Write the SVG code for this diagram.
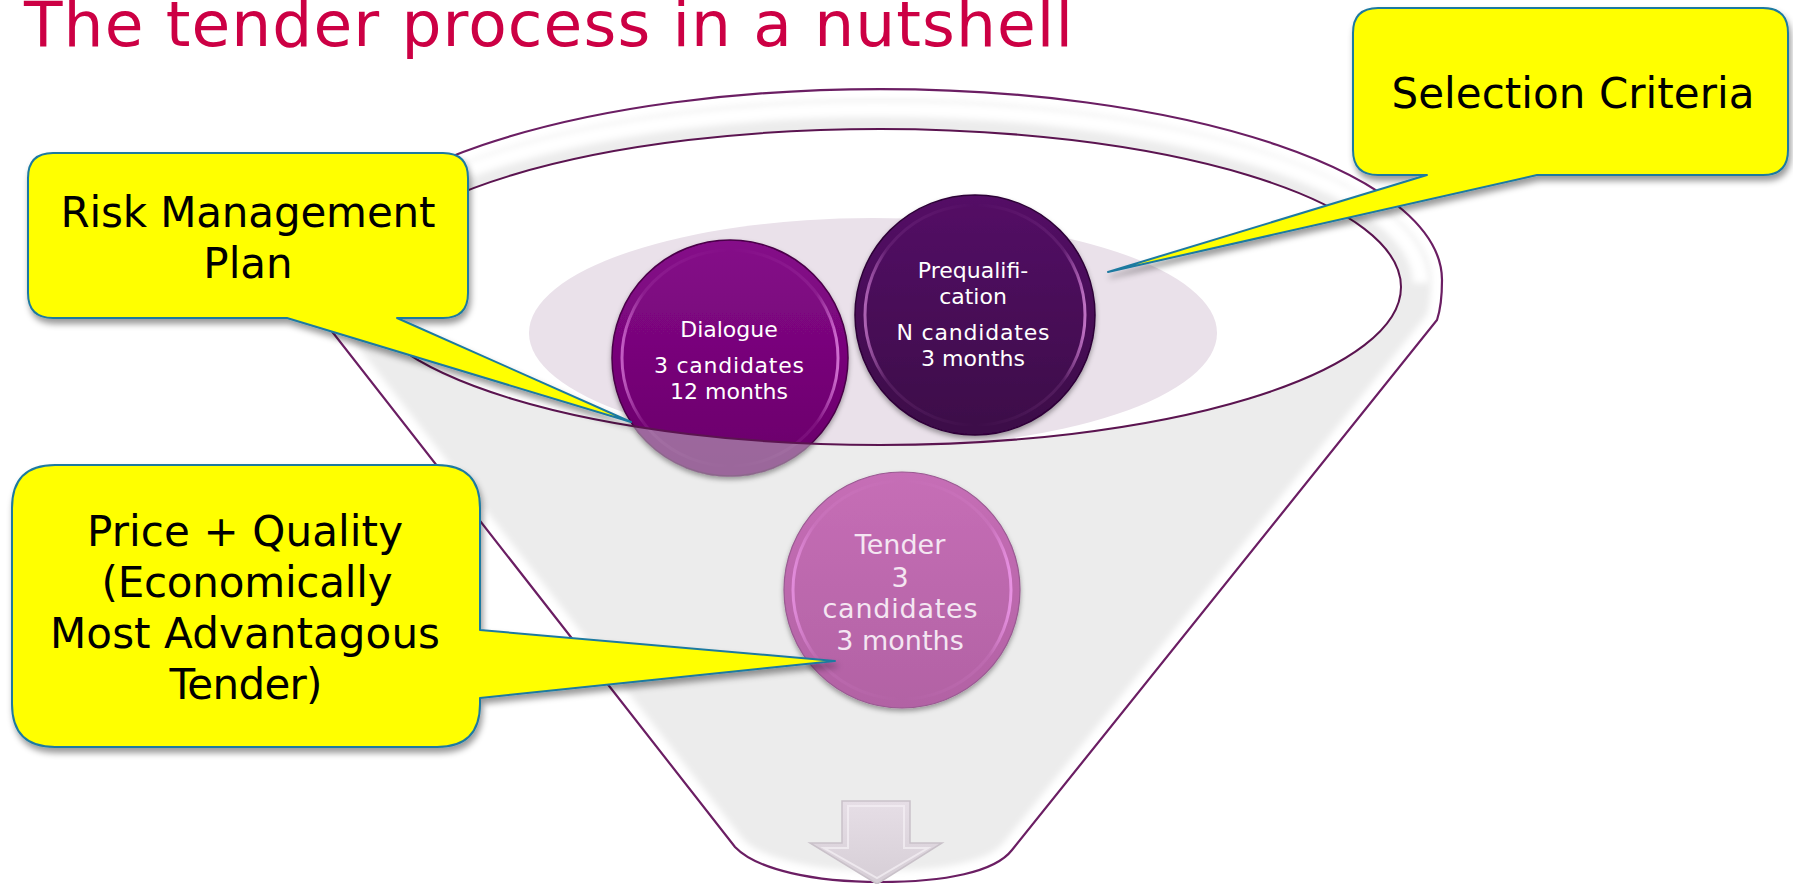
<svg xmlns="http://www.w3.org/2000/svg" width="1793" height="884" viewBox="0 0 1793 884">
  <style>
    .title { font-family: "DejaVu Sans", Verdana, sans-serif; font-size: 63px; fill: #CC0044; }
    .call { font-family: "DejaVu Sans", Verdana, sans-serif; font-size: 42px; fill: #000; text-anchor: middle; }
    .callout { fill: #FFFF00; stroke: #1F7AA0; stroke-width: 2; stroke-linejoin: round; filter: url(#shadow); }
    .stage { font-family: "DejaVu Sans", Verdana, sans-serif; font-size: 22px; fill: #FFFFFF; text-anchor: middle; }
    .stage-lg { font-family: "DejaVu Sans", Verdana, sans-serif; font-size: 27px; fill: #F4E6F2; text-anchor: middle; }
    .funnel-line { fill: none; stroke: #6B1E63; stroke-width: 2.2; }
    .ring { fill: none; stroke: url(#ringHi); stroke-width: 3; }
  </style>
  <defs>
    <filter id="shadow" x="-10%" y="-10%" width="125%" height="130%">
      <feDropShadow dx="2" dy="5" stdDeviation="3" flood-color="#000" flood-opacity="0.4"/>
    </filter>
    <filter id="discShadow" x="-10%" y="-10%" width="120%" height="125%">
      <feDropShadow dx="0" dy="3" stdDeviation="2.5" flood-color="#000" flood-opacity="0.35"/>
    </filter>
    <filter id="soft" x="-5%" y="-5%" width="110%" height="110%">
      <feGaussianBlur stdDeviation="3"/>
    </filter>
    <linearGradient id="ringHi" x1="0" y1="0" x2="1" y2="0">
      <stop offset="0" stop-color="#FFA8FF" stop-opacity="0.55"/>
      <stop offset="0.1" stop-color="#FFA8FF" stop-opacity="0.1"/>
      <stop offset="0.5" stop-color="#FFA8FF" stop-opacity="0"/>
      <stop offset="0.9" stop-color="#FFA8FF" stop-opacity="0.1"/>
      <stop offset="1" stop-color="#FFA8FF" stop-opacity="0.65"/>
    </linearGradient>
    <linearGradient id="gDialogue" x1="0" y1="0" x2="0" y2="1">
      <stop offset="0" stop-color="#850A89"/>
      <stop offset="1" stop-color="#690069"/>
    </linearGradient>
    <linearGradient id="gPrequal" x1="0" y1="0" x2="0" y2="1">
      <stop offset="0" stop-color="#541066"/>
      <stop offset="1" stop-color="#3C0848"/>
    </linearGradient>
    <linearGradient id="gTender" x1="0" y1="0" x2="0" y2="1">
      <stop offset="0" stop-color="#C66EB6"/>
      <stop offset="1" stop-color="#B262A4"/>
    </linearGradient>
    <linearGradient id="gArrow" x1="0" y1="0" x2="0" y2="1">
      <stop offset="0" stop-color="#E6DEE6"/>
      <stop offset="1" stop-color="#D6CED6"/>
    </linearGradient>
    <clipPath id="bodyClip">
      <path d="M 318,280 A 562,191 0 0 1 1442,280 C 1442,298 1441,308 1437,320 L 1012,850 C 995,872 945,882 880,882 C 815,882 757,870 735,847 L 323,320 C 319,308 318,298 318,280 Z"/>
    </clipPath>
    <clipPath id="openingClip">
      <ellipse cx="880" cy="287" rx="521" ry="158"/>
    </clipPath>
    <mask id="outsideOpening">
      <rect width="1793" height="884" fill="#fff"/>
      <ellipse cx="880" cy="287" rx="521" ry="158" fill="#000"/>
    </mask>
  </defs>

  <rect width="1793" height="884" fill="#FFFFFF"/>

  <!-- funnel body -->
  <g id="funnel">
    <path d="M 318,280 A 562,191 0 0 1 1442,280 C 1442,298 1441,308 1437,320 L 1012,850 C 995,872 945,882 880,882 C 815,882 757,870 735,847 L 323,320 C 319,308 318,298 318,280 Z" fill="#ECECEC"/>
    <g clip-path="url(#bodyClip)">
      <path d="M 318,280 A 562,191 0 0 1 1442,280 C 1442,298 1441,308 1437,320 L 1012,850 C 995,872 945,882 880,882 C 815,882 757,870 735,847 L 323,320 C 319,308 318,298 318,280 Z" fill="none" stroke="#FFFFFF" stroke-width="22" filter="url(#soft)"/>
      <path d="M 339,283 A 541,174 0 0 1 1421,283" fill="none" stroke="#FFFFFF" stroke-width="16" filter="url(#soft)"/>
    </g>
    <path class="funnel-line" d="M 318,280 A 562,191 0 0 1 1442,280 C 1442,298 1441,308 1437,320 L 1012,850 C 995,872 945,882 880,882 C 815,882 757,870 735,847 L 323,320 C 319,308 318,298 318,280 Z"/>
    <!-- opening of the funnel -->
    <ellipse cx="880" cy="287" rx="521" ry="158" fill="#FFFFFF"/>
    <ellipse cx="873" cy="333" rx="344" ry="115" fill="#EAE1EA" clip-path="url(#openingClip)"/>
  </g>

  <!-- stage discs -->
  <g id="dialogue">
    <circle cx="730" cy="358" r="118" fill="url(#gDialogue)" stroke="#4A0048" stroke-width="1.5" filter="url(#discShadow)"/>
    <circle class="ring" cx="730" cy="358" r="108"/>
    <circle cx="730" cy="358" r="119" fill="#C4BCC4" opacity="0.55" mask="url(#outsideOpening)"/>
    <text class="stage" x="729" y="337">Dialogue</text>
    <text class="stage" x="729" y="373" textLength="150">3 candidates</text>
    <text class="stage" x="729" y="399">12 months</text>
  </g>

  <g id="prequalification">
    <circle cx="975" cy="315" r="120" fill="url(#gPrequal)" stroke="#2E0438" stroke-width="1.5" filter="url(#discShadow)"/>
    <circle class="ring" cx="975" cy="315" r="110"/>
    <text class="stage" x="973" y="278">Prequalifi-</text>
    <text class="stage" x="973" y="304">cation</text>
    <text class="stage" x="973" y="340" textLength="153">N candidates</text>
    <text class="stage" x="973" y="366">3 months</text>
  </g>

  <!-- rim edge of the opening, over the discs -->
  <g id="opening-edge">
    <ellipse cx="880" cy="287" rx="521" ry="158" fill="none" stroke="#5B1450" stroke-width="2"/>
  </g>

  <g id="tender">
    <circle cx="902" cy="590" r="118" fill="url(#gTender)" stroke="#9A5A92" stroke-width="1.2" filter="url(#discShadow)"/>
    <circle class="ring" cx="902" cy="590" r="109"/>
    <text class="stage-lg" x="900" y="554">Tender</text>
    <text class="stage-lg" x="900" y="587">3</text>
    <text class="stage-lg" x="900" y="618" textLength="155">candidates</text>
    <text class="stage-lg" x="900" y="650">3 months</text>
  </g>

  <!-- output arrow at the funnel spout -->
  <g id="out-arrow">
    <polygon points="842,801 910,801 910,843 942,843 877,884 810,843 842,843" fill="url(#gArrow)" stroke="#C9C1C9" stroke-width="1.5"/>
    <polygon points="848,806 904,806 904,848 928,848 877,878 824,848 848,848" fill="none" stroke="#F2EEF2" stroke-width="2" opacity="0.8"/>
  </g>

  <!-- callouts -->
  <g id="connectors">
    <path class="callout" d="M 53,153 H 443 Q 468,153 468,178 V 293 Q 468,318 443,318 H 397 L 631,422 L 287,318 H 53 Q 28,318 28,293 V 178 Q 28,153 53,153 Z"/>
    <path class="callout" d="M 1378,8 H 1763 Q 1788,8 1788,33 V 150 Q 1788,175 1763,175 H 1537 L 1108,272 L 1427,175 H 1378 Q 1353,175 1353,150 V 33 Q 1353,8 1378,8 Z"/>
    <path class="callout" d="M 55,465 H 437 Q 480,465 480,508 V 630 L 835,661 L 480,698 V 704 Q 480,747 437,747 H 55 Q 12,747 12,704 V 508 Q 12,465 55,465 Z"/>
  </g>

  <g id="risk-management">
    <text class="call" x="248" y="227" textLength="375">Risk Management</text>
    <text class="call" x="248" y="278">Plan</text>
  </g>

  <g id="selection-criteria">
    <text class="call" x="1573" y="108" textLength="363">Selection Criteria</text>
  </g>

  <g id="price-quality">
    <text class="call" x="245" y="546" textLength="316">Price + Quality</text>
    <text class="call" x="247" y="597" textLength="291">(Economically</text>
    <text class="call" x="245" y="648" textLength="390">Most Advantagous</text>
    <text class="call" x="246" y="699" textLength="153">Tender)</text>
  </g>

  <g id="title">
    <text class="title" x="24" y="46" textLength="1049">The tender process in a nutshell</text>
  </g>
</svg>
